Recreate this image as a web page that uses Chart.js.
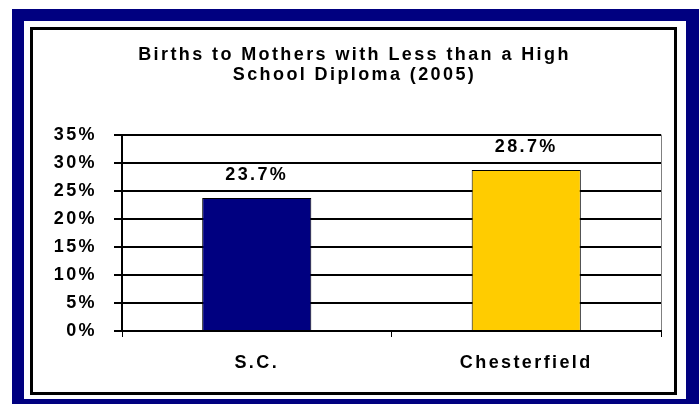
<!DOCTYPE html>
<html>
<head>
<meta charset="utf-8">
<script src="https://cdn.jsdelivr.net/npm/chart.js@4.4.1/dist/chart.umd.min.js"></script>
<style>
  html, body { margin: 0; padding: 0; background: #ffffff; }
  #wrap { width: 699px; height: 404px; position: relative; }
</style>
</head>
<body>
<div id="wrap"><canvas id="c"></canvas></div>
<script>
const categories = ["S.C.", "Chesterfield"];
const values = [23.7, 28.7];
const barColors = ["#000080", "#FFCC00"];
const titleLines = ["Births to Mothers with Less than a High", "School Diploma (2005)"];
const yTicks = { min: 0, max: 35, step: 5 };

const FONT = "'Liberation Sans', Arial, Helvetica, sans-serif";
const SPACING = "2.4px";

const framePlugin = {
  id: "frame",
  beforeDraw(chart) {
    const ctx = chart.ctx;
    const W = chart.width, H = chart.height;
    ctx.save();
    ctx.fillStyle = "#ffffff";
    ctx.fillRect(0, 0, W, H);
    ctx.fillStyle = "#000080";
    ctx.fillRect(12, 9, W - 12, H - 9);
    ctx.fillStyle = "#ffffff";
    ctx.fillRect(24, 21, 686 - 24, 399 - 21);
    ctx.strokeStyle = "#000000";
    ctx.lineWidth = 3;
    ctx.strokeRect(31.5, 28.5, 644, 365);
    ctx.restore();
    try { ctx.letterSpacing = SPACING; } catch (e) {}
  }
};

const labelPlugin = {
  id: "valueLabels",
  afterDatasetsDraw(chart) {
    const ctx = chart.ctx;
    const meta = chart.getDatasetMeta(0);
    ctx.save();
    ctx.font = "bold 18px " + FONT;
    ctx.fillStyle = "#000000";
    ctx.textAlign = "center";
    ctx.textBaseline = "middle";
    meta.data.forEach((el, i) => {
      ctx.fillText(values[i].toFixed(1) + "%", el.x, el.y - 23);
    });
    ctx.restore();
  }
};

new Chart(document.getElementById("c"), {
  type: "bar",
  data: {
    labels: categories,
    datasets: [{
      data: values,
      backgroundColor: barColors,
      borderColor: "#000000",
      borderWidth: 1,
      categoryPercentage: 1.0,
      barPercentage: 0.405
    }]
  },
  options: {
    responsive: true,
    maintainAspectRatio: false,
    animation: false,
    devicePixelRatio: 1,
    layout: { padding: { left: 48, right: 38, top: 0, bottom: 0 } },
    plugins: {
      legend: { display: false },
      tooltip: { enabled: false },
      title: {
        display: true,
        text: titleLines,
        color: "#000000",
        font: { family: FONT, size: 18, weight: "bold", lineHeight: 1.1 },
        padding: { top: 45, bottom: 50 }
      }
    },
    scales: {
      x: {
        afterFit(scale) { scale.height = 73; },
        grid: {
          display: true,
          drawOnChartArea: true,
          offset: true,
          color: (c) => (c.tick ? "rgba(0,0,0,0)" : "#808080"),
          tickColor: "#000000",
          tickLength: 6,
          lineWidth: 1
        },
        border: { display: true, color: "#000000", width: 2 },
        ticks: {
          color: "#000000",
          padding: 15,
          font: { family: FONT, size: 18, weight: "bold" }
        }
      },
      y: {
        min: yTicks.min,
        max: yTicks.max,
        afterFit(scale) { scale.width = 74; },
        grid: {
          color: "#000000",
          lineWidth: 2,
          tickLength: 8,
          tickColor: "#000000"
        },
        border: { display: true, color: "#000000", width: 2 },
        ticks: {
          stepSize: yTicks.step,
          color: "#000000",
          padding: 17,
          font: { family: FONT, size: 18, weight: "bold" },
          callback: (v) => v + "%"
        }
      }
    }
  },
  plugins: [framePlugin, labelPlugin]
});
</script>
</body>
</html>
